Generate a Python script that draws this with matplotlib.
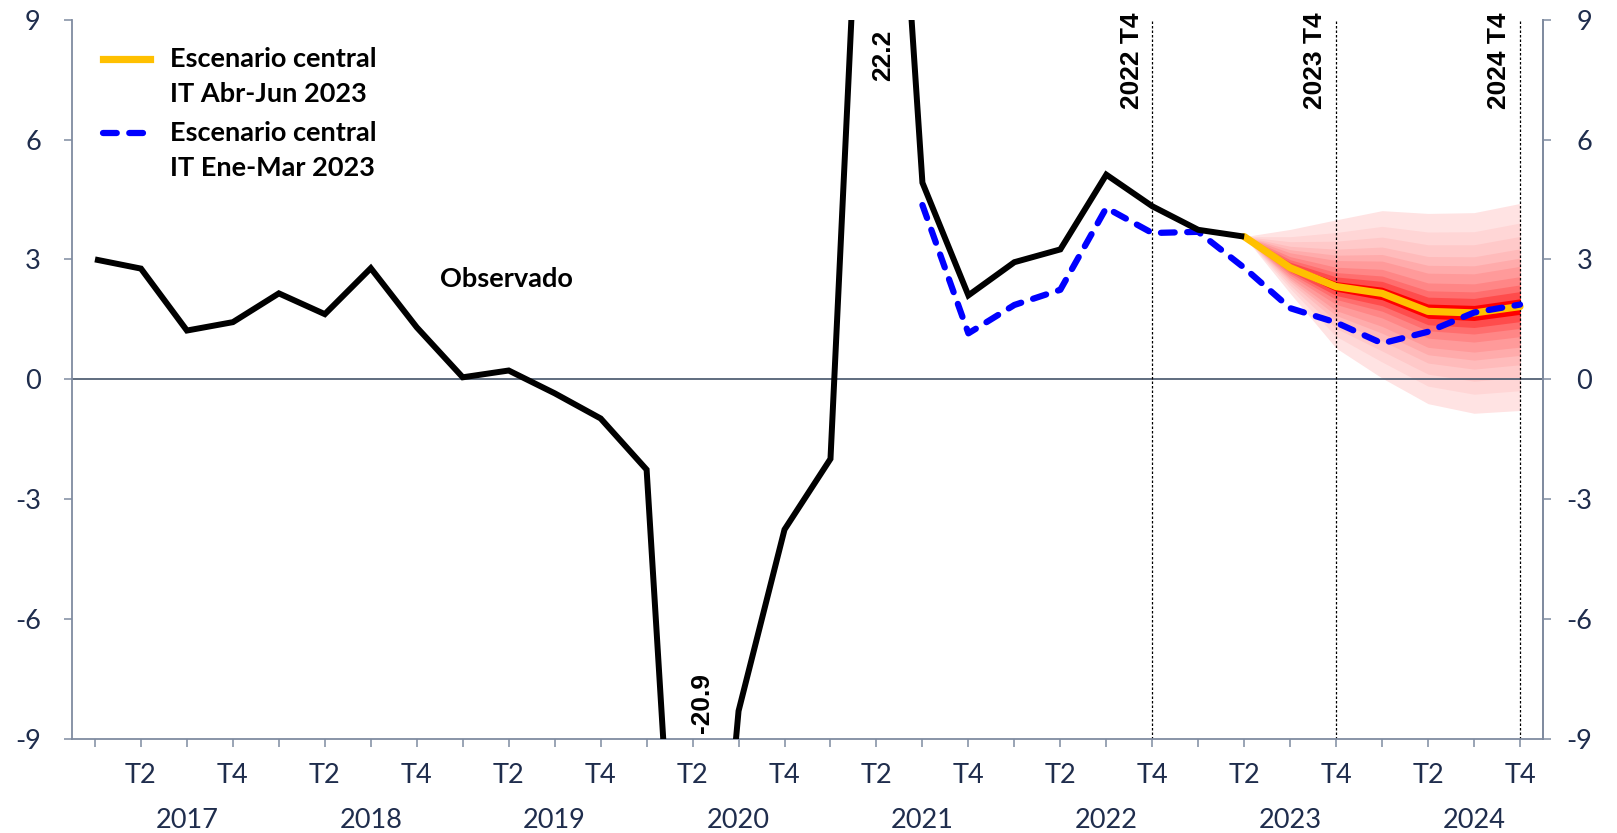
import matplotlib
matplotlib.use("Agg")
import matplotlib.pyplot as plt
import numpy as np
from matplotlib.transforms import blended_transform_factory

# ---------------- data ----------------
quarters = [f"{y} T{q}" for y in range(2017, 2025) for q in range(1, 5)]
years = ["2017", "2018", "2019", "2020", "2021", "2022", "2023", "2024"]
tick_labels = ["" if q in (1, 3) else f"T{q}" for y in range(2017, 2025) for q in range(1, 5)]

observed = [3.0, 2.77, 1.22, 1.43, 2.15, 1.63, 2.78, 1.30, 0.05, 0.22, -0.35, -0.98,
            -2.26, -20.9, -8.3, -3.76, -1.99, 22.2, 4.92, 2.10, 2.93, 3.25, 5.12, 4.33,
            3.74, 3.57]

prev_start = 18
prev_central = [4.36, 1.15, 1.86, 2.24, 4.29, 3.66, 3.69, 2.79, 1.78, 1.42, 0.90, 1.19, 1.67, 1.87]

fan_start = 25
central = [3.57, 2.79, 2.32, 2.15, 1.70, 1.66, 1.82]
fan_upper = [3.57, 3.75, 3.99, 4.22, 4.15, 4.17, 4.40]
fan_lower = [3.57, 2.15, 0.78, 0.03, -0.61, -0.85, -0.78]

yticks = [-9, -6, -3, 0, 3, 6, 9]
marked_quarters = [23, 27, 31]
marked_labels = ["2022 T4", "2023 T4", "2024 T4"]

# ---------------- style ----------------
W, H, DPI = 1617, 833, 100
fig = plt.figure(figsize=(W / DPI, H / DPI), dpi=DPI)
ax = fig.add_axes([72 / W, (H - 739) / H, (1543 - 72) / W, (739 - 19.6) / H])

tick_col = "#1F2D4D"
axis_col = "#7F8BA0"
font_main = "Lato"
font_bold_arial = "Liberation Sans"
fs_tick = 19.5
fs_text = 19.5

x = np.arange(len(quarters))
ax.set_xlim(-0.5, len(quarters) - 0.5)
ax.set_ylim(-9, 9)

# fan chart
fx = np.arange(fan_start, fan_start + len(central))
c = np.array(central)
U = np.array(fan_upper)
L = np.array(fan_lower)
fracs = [1.0, 0.81, 0.68, 0.56, 0.47, 0.39, 0.29, 0.21, 0.145, 0.075]
fan_cols = ["#FFE3E3", "#FFD6D6", "#FFC9C9", "#FFBBBB", "#FFABAB",
            "#FF9A9A", "#FF8686", "#FF6E6E", "#FF4C4C", "#FF0000"]
for f, col in zip(fracs, fan_cols):
    ax.fill_between(fx, c - f * (c - L), c + f * (U - c), color=col, lw=0, zorder=1)

# zero line
ax.axhline(0, color="#44546A", lw=1.2, zorder=2)

# vertical dotted markers
for q, lab in zip(marked_quarters, marked_labels):
    ax.axvline(q, color="black", lw=0.9, ls=(0, (2, 1.6)), zorder=2)
    ax.text(q - 0.45, 9.18, lab, rotation=90, ha="center", va="top",
            fontsize=19, fontweight="bold", family=font_bold_arial, color="black",
            clip_on=False, zorder=6)

# lines
ax.plot(fx, central, color="#FFC000", lw=5.2, solid_capstyle="round",
        solid_joinstyle="round", zorder=3)
ax.plot(np.arange(prev_start, prev_start + len(prev_central)), prev_central,
        color="#0000FF", lw=4.5, ls=(0, (2.2, 2.0)), dash_capstyle="round",
        dash_joinstyle="round", zorder=4)
ax.plot(x[:len(observed)], observed, color="black", lw=4.3, solid_capstyle="butt",
        solid_joinstyle="miter", zorder=5)

# off-scale value labels
ax.text(13.2, -8.1, "-20.9", rotation=90, ha="center", va="center", fontsize=19,
        fontweight="bold", family=font_bold_arial, color="black", zorder=6)
ax.text(17.15, 8.1, "22.2", rotation=90, ha="center", va="center", fontsize=19,
        fontweight="bold", family=font_bold_arial, color="black", zorder=6)
ax.text(7.5, 2.5, "Observado", ha="left", va="center", fontsize=fs_text,
        fontweight="bold", family=font_main, color="black", zorder=6)

# legend (manual)
ta = ax.transAxes
leg_x0, leg_x1, leg_tx = 0.0211, 0.053, 0.0666
ax.plot([leg_x0, leg_x1], [0.9455, 0.9455], transform=ta, color="#FFC000", lw=5.2,
        clip_on=False, zorder=6)
ax.plot([leg_x0, leg_x1], [0.842, 0.842], transform=ta, color="#0000FF", lw=4.5,
        ls=(0, (2.2, 2.0)), dash_capstyle="round", clip_on=False, zorder=6)
for yy, t in [(0.9455, "Escenario central"), (0.8968, "IT Abr-Jun 2023"),
              (0.842, "Escenario central"), (0.7932, "IT Ene-Mar 2023")]:
    ax.text(leg_tx, yy, t, transform=ta, ha="left", va="center", fontsize=fs_text,
            fontweight="bold", family=font_main, color="black")

# axes styling
ax.spines["top"].set_visible(False)
for s in ["left", "right", "bottom"]:
    ax.spines[s].set_color(axis_col)
    ax.spines[s].set_linewidth(1.3)

ax.set_xticks(x)
ax.set_xticklabels(tick_labels)
ax.tick_params(axis="x", direction="out", length=5.5, width=1.1, color=axis_col,
               pad=12, labelsize=fs_tick, labelcolor=tick_col)
for lbl in ax.get_xticklabels():
    lbl.set_family(font_main)

ax.set_yticks(yticks)
ax.set_yticklabels([str(v) for v in yticks])
ax.tick_params(axis="y", direction="out", length=5.5, width=1.1, color=axis_col,
               pad=17, labelsize=fs_tick, labelcolor=tick_col)
for lbl in ax.get_yticklabels():
    lbl.set_family(font_main)

ax2 = ax.twinx()
ax2.set_ylim(-9, 9)
ax2.set_yticks(yticks)
ax2.set_yticklabels([str(v) for v in yticks])
ax2.tick_params(axis="y", direction="out", length=5.5, width=1.1, color=axis_col,
                pad=30, labelsize=fs_tick, labelcolor=tick_col)
for lbl in ax2.get_yticklabels():
    lbl.set_family(font_main)
    lbl.set_horizontalalignment("right")
for s in ["top", "left", "bottom"]:
    ax2.spines[s].set_visible(False)
ax2.spines["right"].set_color(axis_col)
ax2.spines["right"].set_linewidth(1.3)

# year labels
bt = blended_transform_factory(ax.transData, ax.transAxes)
for i, yr in enumerate(years):
    ax.text(4 * i + 2, -0.1126, yr, transform=bt, ha="center", va="center",
            fontsize=fs_tick, family=font_main, color=tick_col)

fig.savefig("out.png", dpi=DPI)
